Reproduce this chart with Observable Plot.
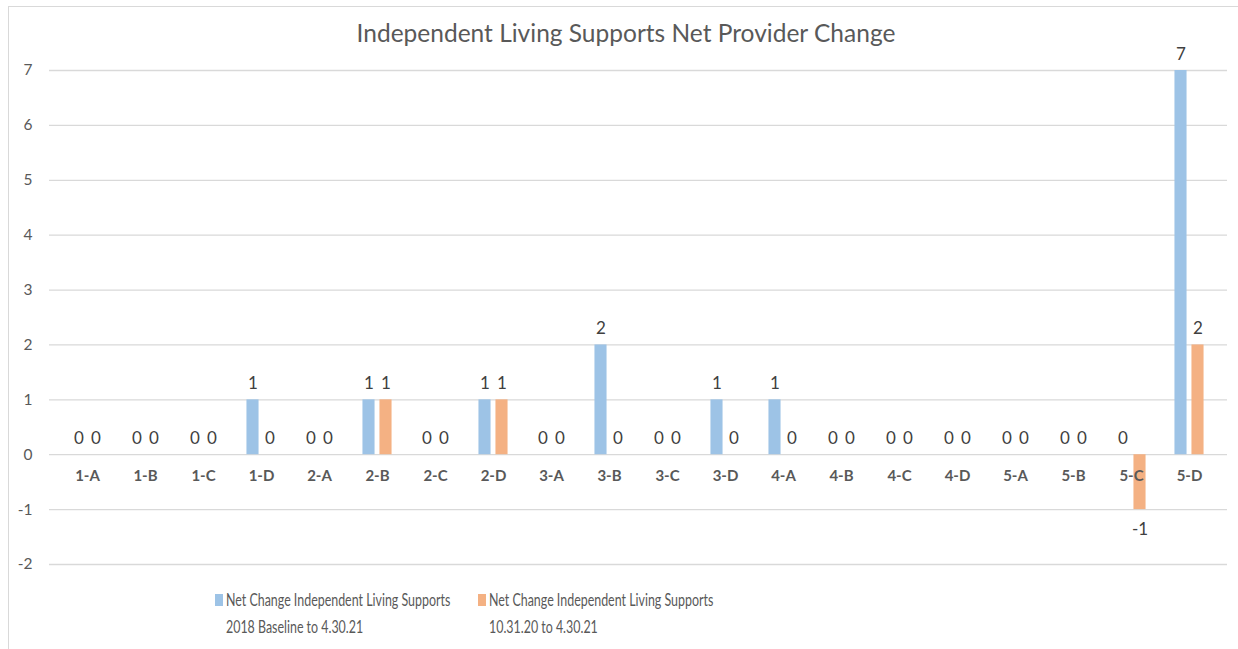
<!DOCTYPE html>
<html>
<head>
<meta charset="utf-8">
<script src="https://cdn.jsdelivr.net/npm/d3@7"></script>
<script src="https://cdn.jsdelivr.net/npm/@observablehq/plot@0.6"></script>
<style>
  html, body { margin: 0; padding: 0; background: #fff; }
  #wrap { position: relative; width: 1238px; height: 649px; overflow: hidden; font-family: Lato, "Open Sans", sans-serif; }
  #frame { position: absolute; left: 8px; top: 6px; width: 1240px; height: 660px; border: 1px solid #d9d9d9; box-sizing: border-box; }
  #title { position: absolute; left: 0; width: 1252px; top: 18px; text-align: center; font-size: 24.5px; color: #595959; }
  .leg { position: absolute; top: 586px; font-size: 18px; line-height: 27px; color: #595959; }
  .sw { position: absolute; left: 0; top: 8px; width: 8px; height: 12px; }
  .lt { margin-left: 11px; white-space: nowrap; transform: scaleX(0.69); transform-origin: left center; }
  #chart { position: absolute; left: 0; top: 0; }
</style>
</head>
<body>
<div id="wrap">
  <div id="frame"></div>
  <div id="chart"></div>
  <div id="title">Independent Living Supports Net Provider Change</div>
  <div id="legend"></div>
</div>
<script>
const categories = ["1-A","1-B","1-C","1-D","2-A","2-B","2-C","2-D","3-A","3-B","3-C","3-D","4-A","4-B","4-C","4-D","5-A","5-B","5-C","5-D"];
const baselineValues = [0,0,0,1,0,1,0,1,0,2,0,1,1,0,0,0,0,0,0,7];
const recentValues   = [0,0,0,0,0,1,0,1,0,0,0,0,0,0,0,0,0,0,-1,2];
const seriesNames = [
  "Net Change Independent Living Supports\n2018 Baseline to 4.30.21",
  "Net Change Independent Living Supports\n10.31.20 to 4.30.21"
];
const seriesColors = ["#9DC3E6", "#F4B183"];
const yTicks = [-2,-1,0,1,2,3,4,5,6,7];

const blue = categories.map((c, i) => ({cat: c, value: baselineValues[i]}));
const orange = categories.map((c, i) => ({cat: c, value: recentValues[i]}));

const textColor = "#595959";
const fontFam = "Lato, 'Open Sans', sans-serif";

const plot = Plot.plot({
  width: 1238,
  height: 649,
  marginLeft: 49,
  marginRight: 11,
  marginTop: 70,
  marginBottom: 85,
  style: {fontFamily: fontFam, background: "transparent", color: textColor},
  x: {domain: categories, padding: 0, axis: null},
  y: {domain: [-2, 7], ticks: yTicks, label: null},
  marks: [
    Plot.gridY(yTicks, {stroke: "#d9d9d9", strokeOpacity: 1, strokeWidth: 1.3}),
    Plot.axisY(yTicks, {tickSize: 0, tickPadding: 17, fontSize: 15.5, fill: textColor, label: null, tickFormat: d => d < 0 ? "-" + Math.abs(d) : String(d)}),
    Plot.barY(blue, {x: "cat", y: "value", fill: seriesColors[0], insetLeft: 14.45, insetRight: 31.45}),
    Plot.barY(orange, {x: "cat", y: "value", fill: seriesColors[1], insetLeft: 31.45, insetRight: 14.45}),
    Plot.text(blue, {x: "cat", y: "value", text: d => String(d.value), dx: -8.5, fontSize: 17, fill: "#404040", filter: d => d.value >= 0, lineAnchor: "bottom", dy: -11}),
    Plot.text(orange, {x: "cat", y: "value", text: d => String(d.value), dx: 8.5, fontSize: 17, fill: "#404040", filter: d => d.value >= 0, lineAnchor: "bottom", dy: -11}),
    Plot.text(orange, {x: "cat", y: "value", text: d => "-" + Math.abs(d.value), dx: 8.5, fontSize: 17, fill: "#404040", filter: d => d.value < 0, lineAnchor: "top", dy: 13}),
    Plot.text(categories, {x: d => d, y: () => 0, text: d => d, lineAnchor: "top", dy: 16, fontSize: 15, fontWeight: "bold", fill: textColor})
  ]
});
document.getElementById("chart").appendChild(plot);

const legend = document.getElementById("legend");
const legLefts = [215, 478];
seriesNames.forEach((name, i) => {
  const d = document.createElement("div");
  d.className = "leg";
  d.style.left = legLefts[i] + "px";
  const sw = document.createElement("div");
  sw.className = "sw";
  sw.style.background = seriesColors[i];
  const t = document.createElement("div");
  t.className = "lt";
  t.innerHTML = name.split("\n").join("<br>");
  d.appendChild(sw);
  d.appendChild(t);
  legend.appendChild(d);
});
</script>
</body>
</html>
